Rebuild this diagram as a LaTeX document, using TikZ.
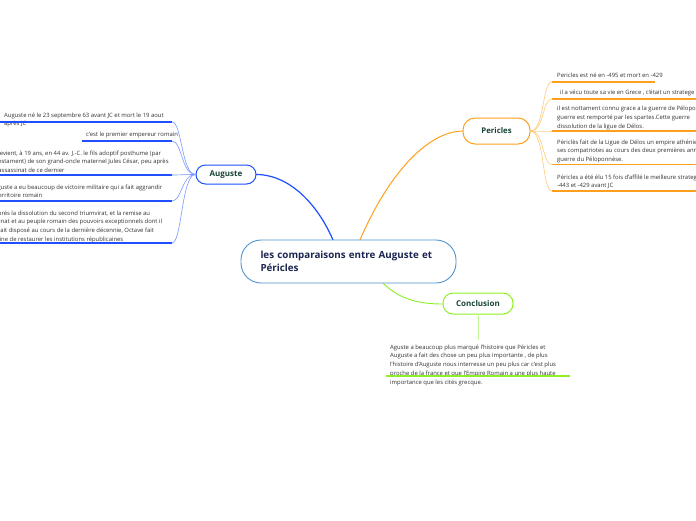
\documentclass[tikz,border=0pt]{standalone}
\usepackage{fontspec}
\setmainfont{Open Sans}
\usetikzlibrary{calc}
\definecolor{augblue}{HTML}{1F4FFF}
\definecolor{auglight}{HTML}{7A98FF}
\definecolor{perorange}{HTML}{FFA01C}
\definecolor{perlight}{HTML}{FFCB7A}
\definecolor{concgreen}{HTML}{8EF024}
\definecolor{conclight}{HTML}{C4F79A}
\definecolor{centralblue}{HTML}{4F93D1}
\definecolor{navytext}{HTML}{1B2450}
\definecolor{topictext}{HTML}{184536}
\definecolor{leaftext}{HTML}{333333}
\tikzset{
  mainbox/.style={draw=centralblue, line width=0.9pt, fill=white, rounded corners=20pt,
    minimum width=215pt, minimum height=43pt, text width=176pt, inner xsep=19.5pt,
    align=left, text=navytext, font=\fontsize{9.8}{13}\selectfont\bfseries},
  topic/.style={line width=1pt, fill=white, text=topictext,
    font=\fontsize{8}{9}\selectfont\bfseries, inner sep=0pt},
  leaf/.style={anchor=base west, align=left, inner sep=0pt, text=leaftext,
    font=\fontsize{5.9}{8.8}\selectfont},
  uline/.style={line width=1.2pt},
  twig/.style={line width=0.6pt},
}
\begin{document}
\begin{tikzpicture}[x=1pt,y=-1pt]
\useasboundingbox (0,0) rectangle (696,520);
\clip (0,0) rectangle (696,520);
\fill[white] (0,0) rectangle (696,520);

% main branches (drawn first, under the nodes)
\coordinate (cA) at (333,240);
\coordinate (cP) at (360,240);
\coordinate (cC) at (383,283);
\coordinate (augE) at (256,174.5);
\coordinate (perW) at (463,131);
\coordinate (conW) at (443,304);
\draw[augblue, line width=1.2pt] (cA) .. controls (318,205) and (290,174.5) .. (augE);
\draw[perorange, line width=1pt] (cP) .. controls (390,170) and (430,131) .. (perW);
\draw[concgreen, line width=0.9pt] (cC) .. controls (400,300) and (420,304) .. (conW);

% nodes
\node[mainbox] (c) at (348.5,261.5) {les comparaisons entre Auguste et\\Péricles};
\node[topic, draw=augblue, rounded corners=9.5pt, minimum width=60pt, minimum height=19pt] (aug) at (226,174.5) {Auguste};
\node[topic, draw=perorange, rounded corners=12pt, minimum width=67pt, minimum height=26pt, font=\fontsize{7.8}{9}\selectfont\bfseries] (per) at (496.5,131) {Pericles};
\node[topic, draw=concgreen, rounded corners=10pt, minimum width=70pt, minimum height=21pt] (con) at (478,303.5) {Conclusion};

% Auguste leaves (anchor = baseline of the last line)
\node[leaf] (a1) at (4,125.8) {Auguste né le 23 septembre 63 avant JC et mort le 19 aout\\après JC};
\node[leaf] (a2) at (86,136) {c'est le premier empereur romain};
\node[leaf] (a3) at (-4,172.6) {devient, à 19 ans, en 44 av. J.-C. le fils adoptif posthume (par\\testament) de son grand-oncle maternel Jules César, peu après\\l'assassinat de ce dernier};
\node[leaf] (a4) at (-10,197.8) {Auguste a eu beaucoup de victoire militaire qui a fait aggrandir\\le territoire romain};
\node[leaf] (a5) at (-6,241.4) {Après la dissolution du second triumvirat, et la remise au\\Sénat et au peuple romain des pouvoirs exceptionnels dont il\\avait disposé au cours de la dernière décennie, Octave fait\\mine de restaurer les institutions républicaines};

\foreach \n/\y/\xa in {1/122/0, 2/141/82, 3/175/0, 4/201/0, 5/243/0}{
  \coordinate (ae\n) at (172,\y);
  \coordinate (as\n) at (\xa,\y);
  \draw[augblue, uline] (as\n) -- (ae\n);
  \draw[auglight, twig] (aug.west) .. controls ($(aug.west)+(-14,0)$) and ($(ae\n)+(10,0)$) .. (ae\n);
}

% Pericles leaves
\node[leaf] (p1) at (557,77) {Pericles est né en -495 et mort en -429};
\node[leaf] (p2) at (560,94) {il a vécu toute sa vie en Grece , c'était un stratege};
\node[leaf] (p3) at (557,128.1) {il est nottament connu grace a la guerre de Péloponnèse\\guerre est remporté par les spartes.Cette guerre\\dissolution de la ligue de Délos.};
\node[leaf] (p4) at (557,161.6) {Périclès fait de la Ligue de Délos un empire athénien\\ses compatriotes au cours des deux premières années\\guerre du Péloponnèse.};
\node[leaf] (p5) at (557,187.8) {Péricles a été élu 15 fois d'affilé le meilleure stratege\\-443 et -429 avant JC};

\foreach \n/\y/\xb in {1/82/655, 2/99/700, 3/131/700, 4/164.5/700, 5/191/700}{
  \coordinate (ps\n) at (552,\y);
  \coordinate (pe\n) at (\xb,\y);
  \draw[perorange, uline] (ps\n) -- (pe\n);
  \draw[perlight, twig] (per.east) .. controls ($(per.east)+(14,0)$) and ($(ps\n)+(-10,0)$) .. (ps\n);
}

% Conclusion leaf
\coordinate (cv) at (478,340);
\draw[conclight, line width=1pt] (con.south) -- (cv);
\node[leaf, font=\fontsize{5.9}{8.9}\selectfont] (k1) at (390,384.6) {Aguste a beaucoup plus marqué l'histoire que Péricles et\\Auguste a fait des chose un peu plus importante , de plus\\l'histoire d'Auguste nous interresse un peu plus car c'est plus\\proche de la france et que l'Empire Romain a une plus haute\\importance que les cités grecque.};
\coordinate (ks) at (386,376);
\coordinate (ke) at (570,376);
\draw[concgreen, uline] (ks) -- (ke);
\end{tikzpicture}
\end{document}
